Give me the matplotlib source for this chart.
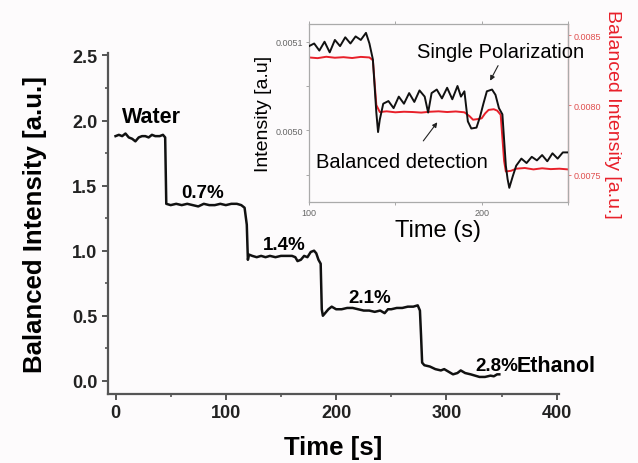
import matplotlib.pyplot as plt
from matplotlib.ticker import MultipleLocator

plt.rcParams['font.family'] = ['Liberation Sans', 'DejaVu Sans']

# main trace: balanced intensity vs time
t_main = [0, 3, 6, 9, 12, 15, 18, 21, 24, 27, 30, 33, 36, 40, 43, 45,
          46, 50, 55, 60, 65, 70, 75, 80, 85, 90, 95, 100, 105, 110, 114, 117,
          119, 120, 121, 124, 128, 132, 136, 140, 145, 150, 155, 160, 163, 165,
          168, 171, 174, 177, 180, 182, 184, 186, 187, 188, 190, 193, 196, 200,
          205, 210, 215, 220, 225, 230, 235, 240, 244, 247, 250, 255, 260, 265,
          270, 274, 276, 277, 278, 280, 285, 290, 295, 298, 302, 306, 310, 313,
          317, 322, 326, 330, 335, 340, 343, 346, 348]
i_main = [1.88, 1.89, 1.88, 1.90, 1.87, 1.86, 1.84, 1.87, 1.88, 1.88, 1.87, 1.89, 1.88, 1.88, 1.89, 1.87,
          1.36, 1.35, 1.36, 1.35, 1.36, 1.35, 1.34, 1.36, 1.35, 1.35, 1.36, 1.35, 1.36, 1.36, 1.35, 1.33,
          1.20, 0.93, 0.97, 0.96, 0.95, 0.96, 0.95, 0.96, 0.95, 0.96, 0.96, 0.96, 0.95, 0.92,
          0.93, 0.96, 0.95, 0.99, 1.00, 0.98, 0.93, 0.90, 0.55, 0.50, 0.52, 0.55, 0.57, 0.55,
          0.55, 0.56, 0.56, 0.55, 0.54, 0.54, 0.53, 0.54, 0.52, 0.55, 0.55, 0.56, 0.56, 0.57,
          0.57, 0.58, 0.54, 0.35, 0.14, 0.12, 0.11, 0.09, 0.08, 0.09, 0.07, 0.05, 0.06, 0.08,
          0.06, 0.05, 0.04, 0.03, 0.03, 0.04, 0.035, 0.05, 0.05]

# inset: single polarization (left axis)
t_single = [100, 103, 106, 109, 112, 115, 118, 121, 124, 127, 130, 133, 135, 137, 139, 140,
            141, 143, 146, 149, 152, 155, 158, 161, 164, 167, 169, 171, 174, 177, 180, 183,
            186, 188, 190, 192, 194, 197, 199, 201, 203, 206, 208, 210, 212, 214, 215, 216,
            218, 220, 223, 226, 229, 232, 235, 238, 241, 244, 247, 250]
i_single = [0.005095, 0.005098, 0.005090, 0.005100, 0.005088, 0.005102, 0.005095, 0.005105,
            0.005098, 0.005106, 0.005102, 0.005110, 0.005098, 0.005080, 0.005020, 0.004998,
            0.005012, 0.005030, 0.005033, 0.005025, 0.005038, 0.005030, 0.005042, 0.005032,
            0.005045, 0.005038, 0.005020, 0.005042, 0.005046, 0.005036, 0.005048, 0.005035,
            0.005050, 0.005038, 0.005044, 0.005010, 0.005002, 0.005003, 0.005015, 0.005030,
            0.005044, 0.005046, 0.005040, 0.005025, 0.005018, 0.004960, 0.004945, 0.004935,
            0.004948, 0.004960, 0.004968, 0.004963, 0.004970, 0.004966, 0.004972, 0.004965,
            0.004974, 0.004968, 0.004975, 0.004975]

# inset: balanced detection (right axis)
t_bal = [100, 105, 110, 115, 120, 125, 130, 135, 137, 139, 141, 145, 150, 155, 160, 165,
         170, 175, 180, 185, 190, 193, 195, 198, 200, 202, 204, 207, 209, 211, 213, 214,
         217, 220, 225, 230, 235, 240, 245, 250]
i_bal = [0.008340, 0.008335, 0.008345, 0.008338, 0.008342, 0.008336, 0.008344, 0.008340,
         0.008320, 0.008000, 0.007950, 0.007955, 0.007948, 0.007952, 0.007950, 0.007946,
         0.007952, 0.007955, 0.007950, 0.007954, 0.007948, 0.007920, 0.007895, 0.007900,
         0.007905, 0.007940, 0.007965, 0.007970, 0.007960, 0.007930, 0.007600, 0.007525,
         0.007530, 0.007545, 0.007550, 0.007540, 0.007548, 0.007542, 0.007545, 0.007540]

fig = plt.figure(figsize=(6.38, 4.64), dpi=100, facecolor='#fdfbfc')
ax = fig.add_axes([0.169, 0.149, 0.707, 0.735])
ax.set_facecolor('#fdfbfc')
ax.plot(t_main, i_main, color='#111111', lw=1.8)

ax.set_xlim(-7, 402)
ax.set_ylim(-0.1, 2.52)
ax.xaxis.set_major_locator(MultipleLocator(100))
ax.xaxis.set_minor_locator(MultipleLocator(50))
ax.yaxis.set_minor_locator(MultipleLocator(0.25))
ax.set_yticks([0, 0.5, 1.0, 1.5, 2.0, 2.5])
ax.set_yticklabels(['0.0', '0.5', '1.0', '1.5', '2.0', '2.5'])
for s in ['top', 'right']:
    ax.spines[s].set_visible(False)
for s in ['left', 'bottom']:
    ax.spines[s].set_color('#555555')
    ax.spines[s].set_linewidth(1.6)
ax.tick_params(which='major', direction='out', length=4, width=1.4, color='#555555',
               labelsize=13, labelcolor='#222222')
ax.tick_params(which='minor', direction='out', length=2.5, width=1.2, color='#555555')
for lab in ax.get_xticklabels() + ax.get_yticklabels():
    lab.set_fontweight('bold')
ax.set_xlabel('Time [s]', fontsize=18.5, fontweight='bold', labelpad=10)
ax.set_ylabel('Balanced Intensity [a.u.]', fontsize=18.5, fontweight='bold', labelpad=18)

# concentration labels
ax.text(6, 2.03, 'Water', fontsize=15.5, fontweight='bold', va='center')
ax.text(60, 1.45, '0.7%', fontsize=13.5, fontweight='bold', va='center')
ax.text(134, 1.05, '1.4%', fontsize=13.5, fontweight='bold', va='center')
ax.text(211, 0.64, '2.1%', fontsize=13.5, fontweight='bold', va='center')
ax.text(326, 0.115, '2.8%', fontsize=13.5, fontweight='bold', va='center')
ax.text(364, 0.115, 'Ethanol', fontsize=15.5, fontweight='bold', va='center')

# inset
ins = fig.add_axes([0.4843, 0.5625, 0.406, 0.3836])
ins.plot(t_single, i_single, color='#111111', lw=1.4, zorder=3)
ins.set_xlim(100, 250)
ins.set_ylim(0.004919, 0.005120)
ins.set_xticks([100, 200])
ins.xaxis.set_minor_locator(MultipleLocator(50))
ins.set_yticks([0.0050, 0.0051])
ins.set_yticklabels(['0.0050', '0.0051'])
ins.yaxis.set_minor_locator(MultipleLocator(0.00005))
ins.tick_params(which='both', direction='out', length=2, width=0.6, color='#999999',
                labelsize=6.5, labelcolor='#666666', pad=1.5, top=True)
ins.tick_params(which='major', length=2.5)
for s in ins.spines.values():
    s.set_color('#aaaaaa')
    s.set_linewidth(0.9)
ins.set_xlabel('Time (s)', fontsize=17, labelpad=2)
ins.set_ylabel('Intensity [a.u]', fontsize=14, labelpad=3)

ins2 = ins.twinx()
ins2.plot(t_bal, i_bal, color='#e8202a', lw=1.4, zorder=2)
ins2.set_ylim(0.007307, 0.008579)
ins2.set_yticks([0.0075, 0.0080, 0.0085])
ins2.set_yticklabels(['0.0075', '0.0080', '0.0085'])
ins2.tick_params(axis='y', direction='out', length=2.5, width=0.6, color='#e86060',
                 labelsize=6.5, labelcolor='#e05050', pad=1.5)
ins2.spines['right'].set_color('#e88080')
ins2.spines['right'].set_linewidth(0.9)
for s in ['top', 'left', 'bottom']:
    ins2.spines[s].set_visible(False)
ins2.set_ylabel('Balanced Intensity [a.u.]', fontsize=14, color='#e8202a',
                rotation=270, labelpad=14)
ins.set_zorder(ins2.get_zorder() + 1)
ins.patch.set_visible(False)

# curve labels with pointer arrows
arrow_style = dict(arrowstyle='-|>', color='#222222', lw=0.8,
                   mutation_scale=7, shrinkA=0, shrinkB=0)
ins.text(211, 0.005089, 'Single Polarization', fontsize=14.5, ha='center', va='center')
ins.annotate('', xy=(204.9, 0.005056), xytext=(209.5, 0.005073), arrowprops=arrow_style)
ins.text(154, 0.004965, 'Balanced detection', fontsize=14.5, ha='center', va='center')
ins.annotate('', xy=(174.3, 0.005009), xytext=(166.2, 0.004988), arrowprops=arrow_style)

fig.savefig('out.png', dpi=100, facecolor=fig.get_facecolor())
